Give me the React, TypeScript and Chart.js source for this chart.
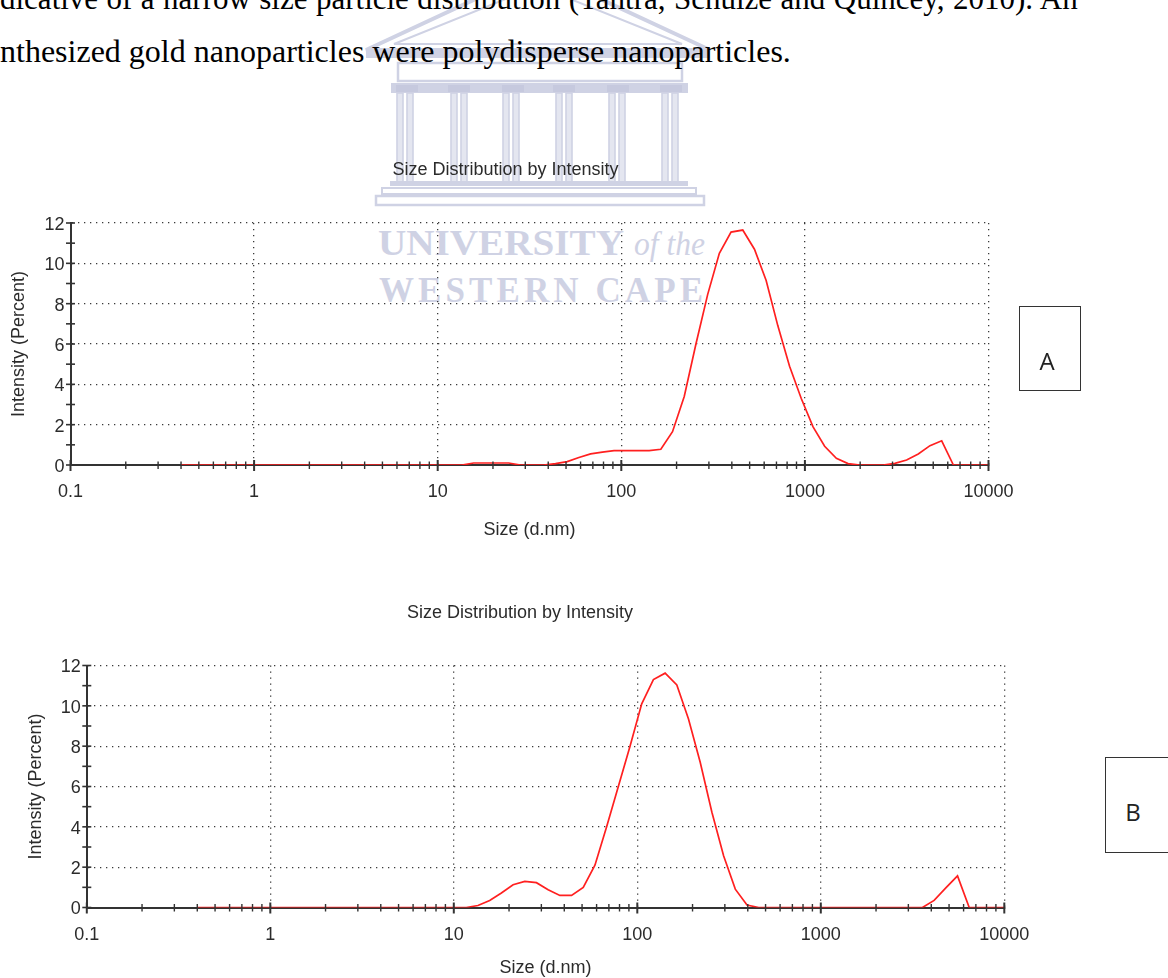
import React, { useEffect, useRef } from "react";
import { Chart, registerables } from "chart.js";

Chart.register(...registerables);

// ---------- data ----------
const sizeBins = [
  0.4, 0.4632, 0.5365, 0.6213, 0.7195, 0.8332, 0.9649, 1.117, 1.294, 1.499,
  1.736, 2.01, 2.328, 2.696, 3.122, 3.615, 4.187, 4.849, 5.615, 6.503,
  7.531, 8.721, 10.1, 11.7, 13.54, 15.69, 18.17, 21.04, 24.36, 28.21,
  32.67, 37.84, 43.82, 50.75, 58.77, 68.06, 78.82, 91.28, 105.7, 122.4,
  141.8, 164.2, 190.1, 220.2, 255, 295.3, 342, 396.1, 458.7, 531.2,
  615.1, 712.4, 825, 955.4, 1106, 1281, 1484, 1718, 1990, 2305,
  2669, 3091, 3580, 4145, 4801, 5560, 6439, 7456, 8635, 10000,
];

const intensityA = [
  0, 0, 0, 0, 0, 0, 0, 0, 0, 0,
  0, 0, 0, 0, 0, 0, 0, 0, 0, 0,
  0, 0, 0, 0, 0, 0.1, 0.1, 0.1, 0.1, 0,
  0, 0, 0.07, 0.17, 0.37, 0.55, 0.64, 0.71, 0.71, 0.71,
  0.71, 0.78, 1.65, 3.4, 6.0, 8.45, 10.5, 11.55, 11.65, 10.7,
  9.15, 6.9, 4.9, 3.3, 1.9, 0.93, 0.33, 0.07, 0, 0,
  0, 0.08, 0.25, 0.55, 0.96, 1.2, 0, 0, 0, 0,
];

const intensityB = [
  0, 0, 0, 0, 0, 0, 0, 0, 0, 0,
  0, 0, 0, 0, 0, 0, 0, 0, 0, 0,
  0, 0, 0, 0, 0.1, 0.35, 0.72, 1.13, 1.29, 1.23,
  0.88, 0.6, 0.6, 1.0, 2.1, 4.0, 6.0, 8.0, 10.1, 11.3,
  11.62, 11.04, 9.35, 7.2, 4.72, 2.57, 0.91, 0.12, 0, 0,
  0, 0, 0, 0, 0, 0, 0, 0, 0, 0,
  0, 0, 0, 0.35, 0.97, 1.57, 0, 0, 0, 0,
];

const xTickValues = [
  0.1, 0.2, 0.3, 0.4, 0.5, 0.6, 0.7, 0.8, 0.9,
  1, 2, 3, 4, 5, 6, 7, 8, 9,
  10, 20, 30, 40, 50, 60, 70, 80, 90,
  100, 200, 300, 400, 500, 600, 700, 800, 900,
  1000, 2000, 3000, 4000, 5000, 6000, 7000, 8000, 9000,
  10000,
];
const xDecades = [0.1, 1, 10, 100, 1000, 10000];
const xTickLabels = ["0.1", "1", "10", "100", "1000", "10000"];

const yTickValues = [0, 1, 2, 3, 4, 5, 6, 7, 8, 9, 10, 11, 12];
const yLabelled = [0, 2, 4, 6, 8, 10, 12];
const yTickLabels = ["0", "2", "4", "6", "8", "10", "12"];

const chartTitle = "Size Distribution by Intensity";
const xAxisTitle = "Size (d.nm)";
const yAxisTitle = "Intensity (Percent)";

const textLine1 =
  "dicative of a narrow size particle distribution (Tantra, Schulze and Quincey, 2010). An";
const textLine2 = "nthesized gold nanoparticles were polydisperse nanoparticles.";

// ---------- styling ----------
const FONT = "'Liberation Sans', Arial, Helvetica, sans-serif";
const TEXT = "#2b2b2b";
const AXIS = "#333333";

interface Layout {
  top: number;
  width: number;
  height: number;
  padL: number;
  padR: number;
  yAxisW: number;
  xAxisH: number;
  titleTop: number;
  titleBottom: number;
  yTitlePad: number;
  xTitlePad: number;
  xTickPad: number;
}

const layoutA: Layout = {
  top: 140, width: 1040, height: 405, padL: 22.5, padR: 51.5, yAxisW: 48,
  xAxisH: 80, titleTop: 19.2, titleBottom: 42.2, yTitlePad: -14.3, xTitlePad: 4.2, xTickPad: 16,
};
const layoutB: Layout = {
  top: 580, width: 1040, height: 398, padL: 35.7, padR: 35.7, yAxisW: 51.1,
  xAxisH: 70.5, titleTop: 22.7, titleBottom: 41.2, yTitlePad: -10.5, xTitlePad: -0.8, xTickPad: 16.5,
};

const crossTicks = {
  id: "crossTicks",
  afterDraw(chart: any) {
    const { ctx, chartArea } = chart;
    const xs = chart.scales.x;
    const ys = chart.scales.y;
    ctx.save();
    ctx.strokeStyle = AXIS;
    xs.ticks.forEach((t: any) => {
      const px = xs.getPixelForValue(t.value);
      const major = xDecades.includes(t.value);
      ctx.lineWidth = major ? 2 : 1.4;
      ctx.beginPath();
      ctx.moveTo(px, chartArea.bottom - (major ? 5 : 3.5));
      ctx.lineTo(px, chartArea.bottom + (major ? 6 : 4));
      ctx.stroke();
    });
    ys.ticks.forEach((t: any) => {
      const py = ys.getPixelForValue(t.value);
      ctx.lineWidth = 1.6;
      ctx.beginPath();
      ctx.moveTo(chartArea.left - 4.5, py);
      ctx.lineTo(chartArea.left + 4.5, py);
      ctx.stroke();
    });
    ctx.restore();
  },
};

function DlsChart({ values, L }: { values: number[]; L: Layout }) {
  const ref = useRef<HTMLCanvasElement>(null);
  useEffect(() => {
    const canvas = ref.current;
    if (!canvas) return;
    const font = { family: FONT, size: 18, weight: "normal" as const };
    const chart = new Chart(canvas, {
      type: "line",
      data: {
        datasets: [
          {
            data: sizeBins.map((s, i) => ({ x: s, y: values[i] })),
            borderColor: "#ff2020",
            borderWidth: 1.7,
            pointRadius: 0,
            fill: false,
            tension: 0,
          },
        ],
      },
      options: {
        responsive: false,
        animation: false,
        devicePixelRatio: 1,
        layout: { padding: { left: L.padL, right: L.padR, top: 0, bottom: 0 } },
        plugins: {
          legend: { display: false },
          tooltip: { enabled: false },
          title: {
            display: true,
            text: chartTitle,
            color: TEXT,
            font,
            padding: { top: L.titleTop, bottom: L.titleBottom },
          },
        },
        scales: {
          x: {
            type: "logarithmic",
            min: 0.1,
            max: 10000,
            afterBuildTicks: (s: any) => {
              s.ticks = xTickValues.map((v) => ({ value: v, major: xDecades.includes(v) }));
            },
            afterFit: (s: any) => {
              s.height = L.xAxisH;
              s.paddingLeft = 0;
              s.paddingRight = 0;
            },
            grid: {
              drawTicks: false,
              lineWidth: 1.3,
              color: (ctx: any) =>
                ctx.tick && xDecades.includes(ctx.tick.value) && ctx.tick.value !== 0.1
                  ? "#3a3a3a"
                  : "rgba(0,0,0,0)",
            },
            border: { display: true, color: AXIS, width: 2, dash: [1.3, 4.7] },
            ticks: {
              autoSkip: false,
              maxRotation: 0,
              minRotation: 0,
              padding: L.xTickPad,
              color: TEXT,
              font,
              callback: (v: any) => {
                const i = xDecades.indexOf(Number(v));
                return i >= 0 ? xTickLabels[i] : "";
              },
            },
            title: {
              display: true,
              text: xAxisTitle,
              color: TEXT,
              font,
              padding: { top: 0, bottom: L.xTitlePad },
            },
          },
          y: {
            type: "linear",
            min: 0,
            max: 12,
            afterBuildTicks: (s: any) => {
              s.ticks = yTickValues.map((v) => ({ value: v }));
            },
            afterFit: (s: any) => {
              s.width = L.yAxisW;
              s.paddingTop = 0;
              s.paddingBottom = 0;
            },
            grid: {
              drawTicks: false,
              lineWidth: 1.3,
              color: (ctx: any) =>
                ctx.tick && ctx.tick.value > 0 && yLabelled.includes(ctx.tick.value)
                  ? "#3a3a3a"
                  : "rgba(0,0,0,0)",
            },
            border: { display: true, color: AXIS, width: 2, dash: [1.3, 4.7] },
            ticks: {
              autoSkip: false,
              padding: 6,
              labelOffset: 2,
              color: TEXT,
              font,
              callback: (v: any) => {
                const i = yLabelled.indexOf(Number(v));
                return i >= 0 ? yTickLabels[i] : "";
              },
            },
            title: {
              display: true,
              text: yAxisTitle,
              color: TEXT,
              font,
              padding: { top: L.yTitlePad, bottom: 0 },
            },
          },
        },
      } as any,
      plugins: [crossTicks],
    });
    return () => chart.destroy();
  }, [values, L]);
  return (
    <canvas
      ref={ref}
      width={L.width}
      height={L.height}
      style={{ position: "absolute", left: 0, top: L.top }}
    />
  );
}

function Watermark() {
  const c = "#cfd2e4";
  const c2 = "#c6c9de";
  const cols = [397, 451, 503, 556, 609, 662];
  const caps = [396, 448, 502, 553, 607, 660];
  return (
    <svg
      width={1168}
      height={978}
      style={{ position: "absolute", left: 0, top: 0 }}
    >
      <polygon points="366,50 538,-30 710,50" fill="none" stroke={c} strokeWidth={4} />
      <polygon points="394,44 538,-14 682,44" fill="none" stroke={c} strokeWidth={2} />
      <rect x={366} y={50} width={344} height={8} fill={c} />
      <rect x={398} y={63} width={284} height={18} fill="none" stroke={c} strokeWidth={2.5} />
      <rect x={391} y={83} width={297} height={10} fill={c} />
      {caps.map((x) => (
        <rect key={"c" + x} x={x} y={85} width={22} height={7} fill={c2} />
      ))}
      {cols.map((x) => (
        <g key={"p" + x}>
          <rect x={x} y={93} width={6} height={89} fill="#e4e6f0" stroke={c} strokeWidth={1.6} />
          <rect x={x + 10} y={93} width={6} height={89} fill="#e4e6f0" stroke={c} strokeWidth={1.6} />
        </g>
      ))}
      <rect x={390} y={181} width={298} height={5} fill={c} />
      <rect x={382} y={188} width={314} height={6} fill="none" stroke={c} strokeWidth={2} />
      <rect x={376} y={196} width={328} height={9} fill="none" stroke={c} strokeWidth={2.5} />
      <text
        x={378}
        y={255}
        fontFamily="'Liberation Serif', 'Times New Roman', serif"
        fontWeight="bold"
        fontSize={35}
        fill={c}
        textLength={246}
        lengthAdjust="spacingAndGlyphs"
      >
        UNIVERSITY
      </text>
      <text
        x={634}
        y={255}
        fontFamily="'Liberation Serif', 'Times New Roman', serif"
        fontStyle="italic"
        fontSize={33}
        fill={c}
        textLength={71}
        lengthAdjust="spacingAndGlyphs"
      >
        of the
      </text>
      <text
        x={379}
        y={302}
        fontFamily="'Liberation Serif', 'Times New Roman', serif"
        fontWeight="bold"
        fontSize={35}
        fill={c}
        textLength={324}
        lengthAdjust="spacing"
      >
        WESTERN CAPE
      </text>
    </svg>
  );
}

export default function App() {
  const serif = "'Liberation Serif', 'Times New Roman', serif";
  const boxStyle: React.CSSProperties = {
    position: "absolute",
    boxSizing: "border-box",
    border: "1.6px solid #333",
    background: "transparent",
  };
  const letterStyle: React.CSSProperties = {
    position: "absolute",
    width: 40,
    textAlign: "center",
    fontFamily: "'Open Sans', 'Noto Sans', sans-serif",
    fontSize: 24,
    lineHeight: "24px",
    color: "#222",
  };
  return (
    <div
      style={{
        position: "absolute",
        left: 0,
        top: 0,
        width: 1168,
        height: 978,
        overflow: "hidden",
        background: "#fff",
      }}
    >
      <Watermark />
      <div
        style={{
          position: "absolute",
          left: 0,
          top: -17,
          fontFamily: serif,
          fontSize: 31,
          lineHeight: "31px",
          wordSpacing: "0.7px",
          whiteSpace: "nowrap",
          color: "#000",
        }}
      >
        {textLine1}
      </div>
      <div
        style={{
          position: "absolute",
          left: 0,
          top: 35,
          fontFamily: serif,
          fontSize: 32,
          lineHeight: "32px",
          whiteSpace: "nowrap",
          color: "#000",
        }}
      >
        {textLine2}
      </div>
      <DlsChart values={intensityA} L={layoutA} />
      <DlsChart values={intensityB} L={layoutB} />
      <div style={{ ...boxStyle, left: 1019, top: 306, width: 62, height: 85 }} />
      <div style={{ ...letterStyle, left: 1027, top: 349 }}>A</div>
      <div style={{ ...boxStyle, left: 1105, top: 757, width: 80, height: 96 }} />
      <div style={{ ...letterStyle, left: 1113, top: 800 }}>B</div>
    </div>
  );
}
